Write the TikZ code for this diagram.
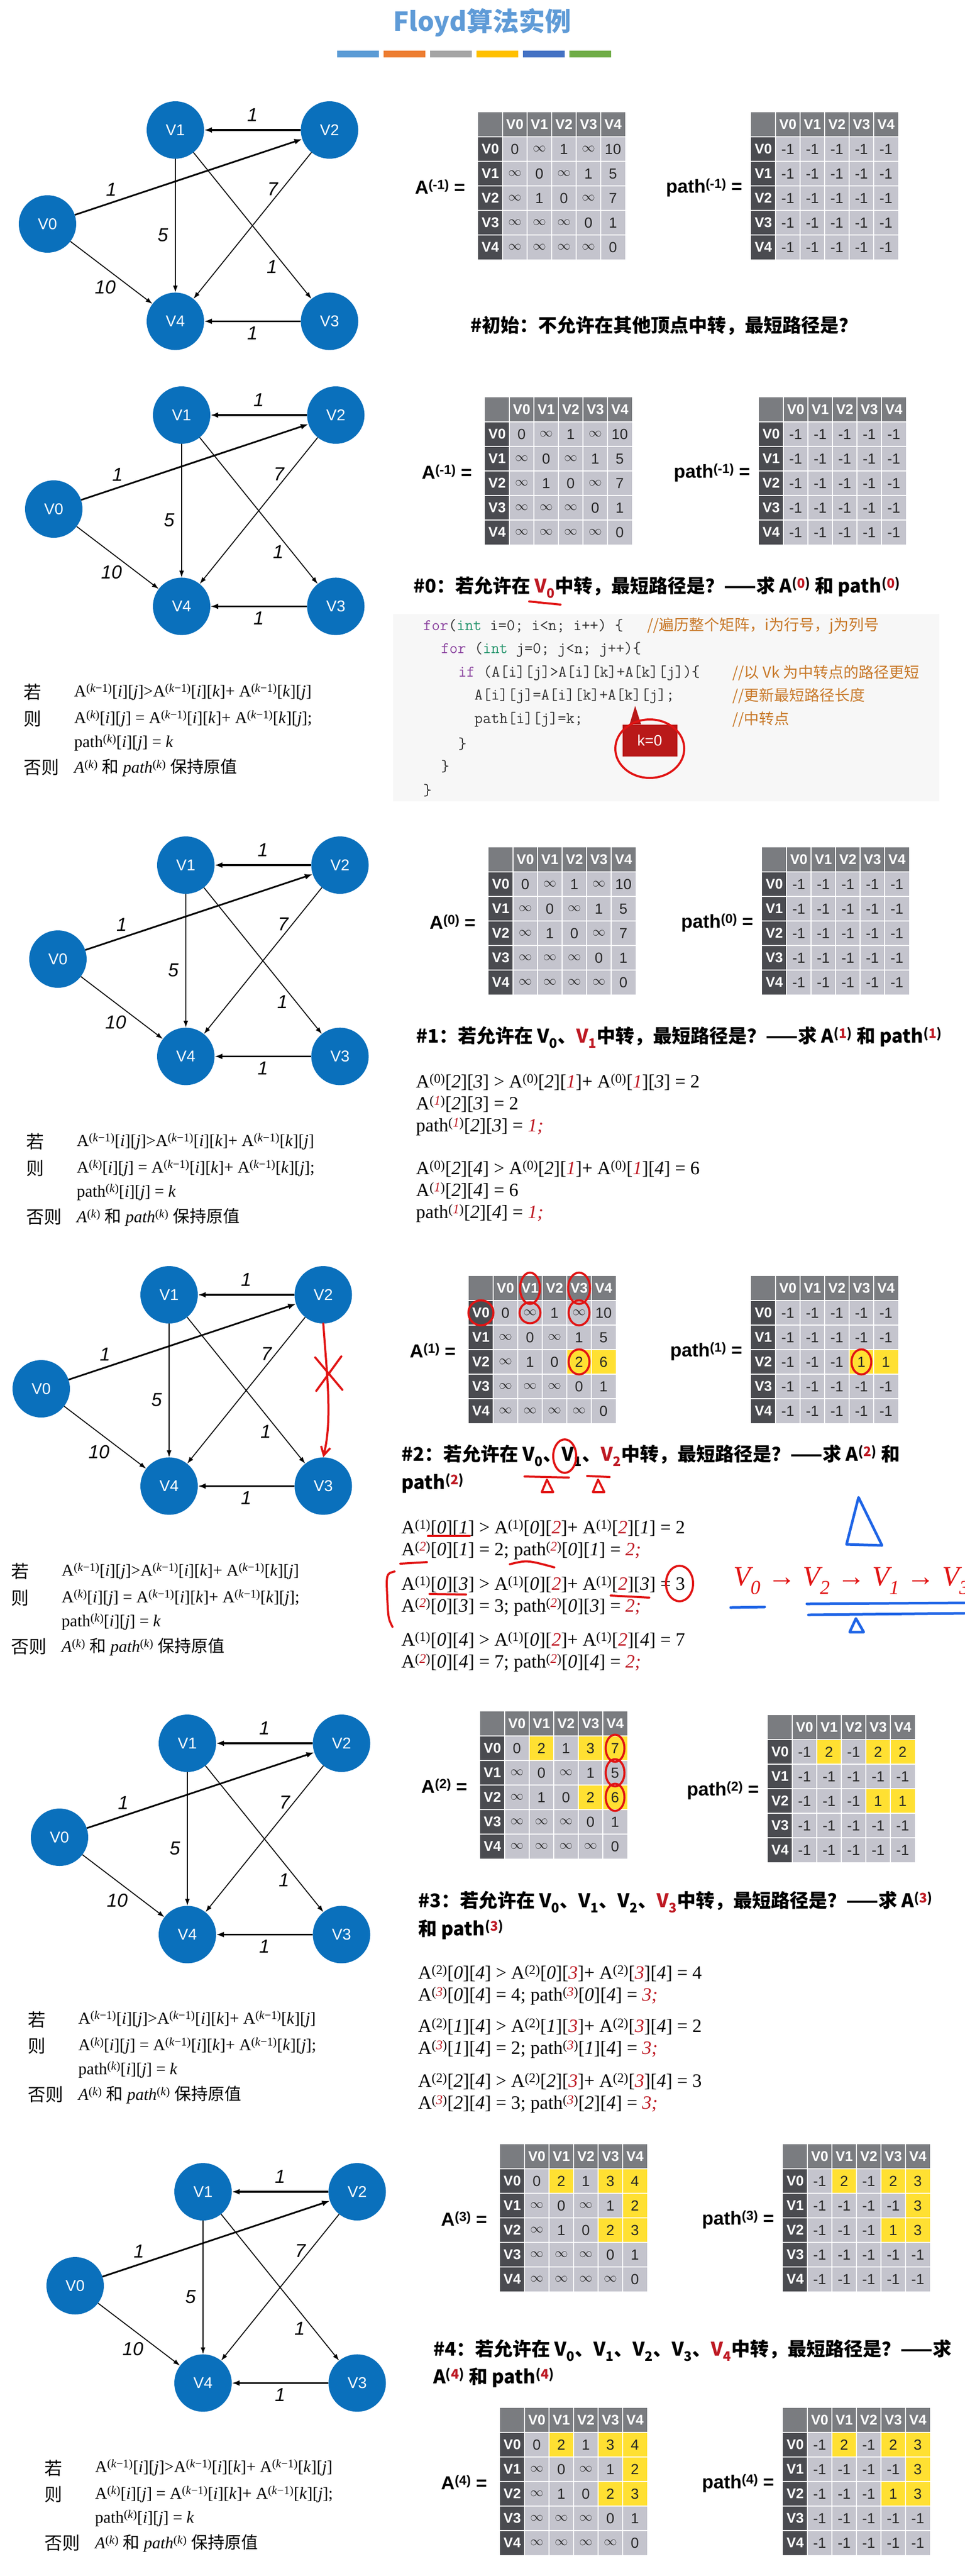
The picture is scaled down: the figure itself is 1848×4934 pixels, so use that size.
\documentclass[tikz,border=0pt]{standalone}
\usepackage{fontspec}
\setmainfont{Liberation Serif}
\setsansfont{Liberation Sans}
\newfontfamily\cjk{Noto Sans CJK SC}
\usetikzlibrary{arrows.meta,positioning}

\definecolor{nodeblue}{RGB}{10,112,188}
\definecolor{titleblue}{RGB}{95,155,215}
\definecolor{barA}{RGB}{91,155,213}
\definecolor{barB}{RGB}{237,125,49}
\definecolor{barC}{RGB}{165,165,165}
\definecolor{barD}{RGB}{255,192,0}
\definecolor{barE}{RGB}{68,114,196}
\definecolor{barF}{RGB}{112,173,71}
\definecolor{headrow}{RGB}{122,124,128}
\definecolor{headcol}{RGB}{74,75,80}
\definecolor{cellgray}{RGB}{196,196,205}
\definecolor{hlyellow}{RGB}{255,224,50}
\definecolor{eqred}{RGB}{190,25,35}
\definecolor{annred}{RGB}{225,20,20}
\definecolor{annblue}{RGB}{30,100,230}
\definecolor{codebg}{RGB}{247,247,247}
\definecolor{kwpurple}{RGB}{140,70,160}
\definecolor{tygreen}{RGB}{40,150,110}
\definecolor{cmtorange}{RGB}{200,120,40}
\definecolor{kred}{RGB}{185,25,25}

\newcommand{\sps}[1]{\textsuperscript{#1}}
\newcommand{\rd}[1]{\textcolor{eqred}{\textit{#1}}}
\newcommand{\hr}[1]{\textcolor{eqred}{#1}}
\newcommand{\infcell}{$\infty$}
\newcommand{\kw}[1]{\textcolor{kwpurple}{#1}}
\newcommand{\ty}[1]{\textcolor{tygreen}{#1}}

% name, x, y, five rows, yellow cells
\newcommand{\floydtable}[9]{%
  \begin{scope}[shift={(#2,#3)}]
    \fill[cellgray] (47,47) rectangle (282,282);
    \fill[headrow] (0,0) rectangle (282,47);
    \fill[headcol] (0,47) rectangle (47,282);
    \ifx\relax#9\relax\else
      \foreach \rr/\cc in {#9} {\fill[hlyellow] (47+47*\cc,47+47*\rr) rectangle ++(47,47);}
    \fi
    \foreach \hd [count=\ii from 0] in {V0,V1,V2,V3,V4} {
      \node[headtxt] (#1-h\ii) at (70.5+47*\ii,23.5) {\hd};
      \node[headtxt] (#1-r\ii) at (23.5,70.5+47*\ii) {\hd};
    }
    \foreach \row [count=\rr from 0] in {{#4},{#5},{#6},{#7},{#8}}
      \foreach \val [count=\cc from 0] in \row
        \node[celltxt] (#1-\rr-\cc) at (70.5+47*\cc,70.5+47*\rr) {\val};
    \foreach \kk in {1,...,5} {
      \draw[gridline] (47*\kk,0) -- (47*\kk,282);
      \draw[gridline] (0,47*\kk) -- (282,47*\kk);
    }
  \end{scope}}

\begin{document}
\begin{tikzpicture}[x=1pt,y=-1pt,
    vnode/.style={circle, fill=nodeblue, text=white, inner sep=0pt,
      minimum size=110pt, font=\sffamily\fontsize{30}{30}\selectfont},
    elabel/.style={inner sep=1pt, font=\sffamily\itshape\fontsize{36}{36}\selectfont},
    thinarr/.style={-{Latex[length=13pt,width=9pt]}, line width=1.8pt},
    thickarr/.style={-{Latex[length=15pt,width=11pt]}, line width=3.2pt},
    headtxt/.style={text=white, inner sep=0pt, font=\sffamily\bfseries\fontsize{27}{27}\selectfont},
    celltxt/.style={text=black!85, inner sep=0pt, font=\sffamily\fontsize{28}{28}\selectfont},
    gridline/.style={white, line width=1.5pt},
    tlabel/.style={anchor=east, inner sep=0pt, font=\sffamily\bfseries\fontsize{36}{36}\selectfont},
    heading/.style={anchor=west, inner sep=0pt, font=\cjk\bfseries\fontsize{36}{36}\selectfont},
    rulecjk/.style={anchor=west, inner sep=0pt, font=\cjk\fontsize{34}{34}\selectfont},
    ruletxt/.style={anchor=west, inner sep=0pt, font=\fontsize{32}{32}\selectfont},
    eqtxt/.style={anchor=west, inner sep=0pt, font=\fontsize{36}{36}\selectfont},
    codetxt/.style={anchor=west, inner sep=0pt, text=black!80, font=\ttfamily\fontsize{31}{31}\selectfont},
    codecmt/.style={anchor=west, inner sep=0pt, text=cmtorange, font=\cjk\fontsize{29}{29}\selectfont},
    redpen/.style={draw=annred, line width=4pt, line cap=round, line join=round},
    bluepen/.style={draw=annblue, line width=5pt, line cap=round, line join=round},
    kbox/.style={fill=kred, text=white, minimum width=105pt, minimum height=61pt,
      inner sep=0pt, font=\sffamily\fontsize{29}{29}\selectfont}
  ]
  \fill[white] (0,0) rectangle (1848,4934);
  \useasboundingbox (0,0) rectangle (1848,4934);

  % title and colour bars
  \node[text=titleblue, font=\cjk\bfseries\fontsize{50}{50}\selectfont] (title) at (924,43) {Floyd算法实例};
  \foreach \col [count=\ii from 0] in {barA,barB,barC,barD,barE,barF}
    \fill[\col] (646+89*\ii,97) rectangle ++(80,13);

  % the six copies of the graph
  \foreach \g/\gx/\gy in {a/336/249, b/348/795, c/356/1657, d/324/2480, e/359/3339, f/389/4198} {
    \node[vnode] (v1\g) at (\gx,\gy) {V1};
    \node[vnode, right=185pt of v1\g] (v2\g) {V2};
    \node[vnode, below=256pt of v1\g] (v4\g) {V4};
    \node[vnode, right=185pt of v4\g] (v3\g) {V3};
    \node[vnode] (v0\g) at (\gx-245,\gy+180) {V0};
    \draw[thickarr] (v2\g) -- node[elabel, above=14pt] (l21\g) {1} (v1\g);
    \draw[thickarr] (v0\g) -- node[elabel, pos=.16, above=10pt] (l02\g) {1} (v2\g);
    \draw[thinarr] (v2\g) -- node[elabel, pos=.25, left=6pt] (l24\g) {7} (v4\g);
    \draw[thinarr] (v1\g) -- node[elabel, pos=.57, left=12pt] (l14\g) {5} (v4\g);
    \draw[thinarr] (v1\g) -- node[elabel, pos=.78, left=14pt] (l13\g) {1} (v3\g);
    \draw[thinarr] (v0\g) -- node[elabel, pos=.73, left=26pt] (l04\g) {10} (v4\g);
    \draw[thickarr] (v3\g) -- node[elabel, below=8pt] (l34\g) {1} (v4\g);
  }

  % matrices
  \floydtable{ta}{916}{215}{0,\infcell,1,\infcell,10}{\infcell,0,\infcell,1,5}{\infcell,1,0,\infcell,7}{\infcell,\infcell,\infcell,0,1}{\infcell,\infcell,\infcell,\infcell,0}{}
  \floydtable{pa}{1439}{215}{-1,-1,-1,-1,-1}{-1,-1,-1,-1,-1}{-1,-1,-1,-1,-1}{-1,-1,-1,-1,-1}{-1,-1,-1,-1,-1}{}
  \floydtable{tb}{929}{761}{0,\infcell,1,\infcell,10}{\infcell,0,\infcell,1,5}{\infcell,1,0,\infcell,7}{\infcell,\infcell,\infcell,0,1}{\infcell,\infcell,\infcell,\infcell,0}{}
  \floydtable{pb}{1454}{761}{-1,-1,-1,-1,-1}{-1,-1,-1,-1,-1}{-1,-1,-1,-1,-1}{-1,-1,-1,-1,-1}{-1,-1,-1,-1,-1}{}
  \floydtable{tc}{936}{1623}{0,\infcell,1,\infcell,10}{\infcell,0,\infcell,1,5}{\infcell,1,0,\infcell,7}{\infcell,\infcell,\infcell,0,1}{\infcell,\infcell,\infcell,\infcell,0}{}
  \floydtable{pc}{1460}{1623}{-1,-1,-1,-1,-1}{-1,-1,-1,-1,-1}{-1,-1,-1,-1,-1}{-1,-1,-1,-1,-1}{-1,-1,-1,-1,-1}{}
  \floydtable{td}{898}{2444}{0,\infcell,1,\infcell,10}{\infcell,0,\infcell,1,5}{\infcell,1,0,2,6}{\infcell,\infcell,\infcell,0,1}{\infcell,\infcell,\infcell,\infcell,0}{2/3,2/4}
  \floydtable{pd}{1439}{2444}{-1,-1,-1,-1,-1}{-1,-1,-1,-1,-1}{-1,-1,-1,1,1}{-1,-1,-1,-1,-1}{-1,-1,-1,-1,-1}{2/3,2/4}
  \floydtable{te}{920}{3278}{0,2,1,3,7}{\infcell,0,\infcell,1,5}{\infcell,1,0,2,6}{\infcell,\infcell,\infcell,0,1}{\infcell,\infcell,\infcell,\infcell,0}{0/1,0/3,0/4,2/3,2/4}
  \floydtable{pe}{1471}{3285}{-1,2,-1,2,2}{-1,-1,-1,-1,-1}{-1,-1,-1,1,1}{-1,-1,-1,-1,-1}{-1,-1,-1,-1,-1}{0/1,0/3,0/4,2/3,2/4}
  \floydtable{tf}{958}{4107}{0,2,1,3,4}{\infcell,0,\infcell,1,2}{\infcell,1,0,2,3}{\infcell,\infcell,\infcell,0,1}{\infcell,\infcell,\infcell,\infcell,0}{0/1,0/3,0/4,1/4,2/3,2/4}
  \floydtable{pf}{1500}{4107}{-1,2,-1,2,3}{-1,-1,-1,-1,3}{-1,-1,-1,1,3}{-1,-1,-1,-1,-1}{-1,-1,-1,-1,-1}{0/1,0/3,0/4,1/4,2/3,2/4}
  \floydtable{tg}{958}{4612}{0,2,1,3,4}{\infcell,0,\infcell,1,2}{\infcell,1,0,2,3}{\infcell,\infcell,\infcell,0,1}{\infcell,\infcell,\infcell,\infcell,0}{0/1,0/3,0/4,1/4,2/3,2/4}
  \floydtable{pg}{1500}{4612}{-1,2,-1,2,3}{-1,-1,-1,-1,3}{-1,-1,-1,1,3}{-1,-1,-1,-1,-1}{-1,-1,-1,-1,-1}{0/1,0/3,0/4,1/4,2/3,2/4}

  % matrix labels
  \foreach \g/\tx/\ty/\px/\py/\sup in {a/916/215/1439/215/-1, b/929/761/1454/761/-1, c/936/1623/1460/1623/0,
      d/898/2444/1439/2444/1, e/920/3278/1471/3285/2, f/958/4107/1500/4107/3, g/958/4612/1500/4612/4} {
    \node[tlabel] (la\g) at (\tx-24,\ty+143) {A\sps{(\sup)} =};
    \node[tlabel] (lp\g) at (\px-16,\py+145) {path\sps{(\sup)} =};
  }

  % headings
  \node[heading] (h0) at (901,624) {\#初始：不允许在其他顶点中转，最短路径是？};
  \node[heading] (h1) at (792,1125) {\#0：若允许在 \hr{V\textsubscript{0}}中转，最短路径是？——求 A\sps{(\hr{0})} 和 path\sps{(\hr{0})}};
  \node[heading] (h2) at (797,1987) {\#1：若允许在 V\textsubscript{0}、\hr{V\textsubscript{1}}中转，最短路径是？——求 A\sps{(\hr{1})} 和 path\sps{(\hr{1})}};
  \node[heading] (h3) at (769,2788) {\#2：若允许在 V\textsubscript{0}、V\textsubscript{1}、\hr{V\textsubscript{2}}中转，最短路径是？——求 A\sps{(\hr{2})} 和};
  \node[heading] (h3b) at (769,2841) {path\sps{(\hr{2})}};
  \node[heading] (h4) at (801,3643) {\#3：若允许在 V\textsubscript{0}、V\textsubscript{1}、V\textsubscript{2}、\hr{V\textsubscript{3}}中转，最短路径是？——求 A\sps{(\hr{3})}};
  \node[heading] (h4b) at (801,3696) {和 path\sps{(\hr{3})}};
  \node[heading] (h5) at (830,4502) {\#4：若允许在 V\textsubscript{0}、V\textsubscript{1}、V\textsubscript{2}、V\textsubscript{3}、\hr{V\textsubscript{4}}中转，最短路径是？——求};
  \node[heading] (h5b) at (830,4554) {A\sps{(\hr{4})} 和 path\sps{(\hr{4})}};

  % update rule, repeated under each graph
  \foreach \g/\rx/\ry in {b/45/1326, c/50/2187, d/21/3010, e/53/3868, f/85/4727} {
    \node[rulecjk] (ruo\g) at (\rx,\ry) {若};
    \node[rulecjk] (rze\g) at (\rx,\ry+51) {则};
    \node[rulecjk] (rfo\g) at (\rx,\ry+144) {否则};
    \node[ruletxt] (rf1\g) at (\rx+97,\ry) {A\sps{(\textit{k}−1)}[\textit{i}][\textit{j}]>A\sps{(\textit{k}−1)}[\textit{i}][\textit{k}]+ A\sps{(\textit{k}−1)}[\textit{k}][\textit{j}]};
    \node[ruletxt] (rf2\g) at (\rx+97,\ry+51) {A\sps{(\textit{k})}[\textit{i}][\textit{j}] = A\sps{(\textit{k}−1)}[\textit{i}][\textit{k}]+ A\sps{(\textit{k}−1)}[\textit{k}][\textit{j}];};
    \node[ruletxt] (rf3\g) at (\rx+97,\ry+97) {path\sps{(\textit{k})}[\textit{i}][\textit{j}] = \textit{k}};
    \node[ruletxt] (rf4\g) at (\rx+97,\ry+144) {\textit{A}\sps{(\textit{k})} {\cjk 和} \textit{path}\sps{(\textit{k})} {\cjk 保持原值}};
  }

  % code of the inner step
  \fill[codebg] (753,1176) rectangle (1800,1535);
  \node[codetxt] (c1) at (811,1199) {\kw{for}(\ty{int} i=0; i<n; i++) \{};
  \node[codetxt] (c2) at (845,1244) {\kw{for} (\ty{int} j=0; j<n; j++)\{};
  \node[codetxt] (c3) at (878,1289) {\kw{if} (A[i][j]>A[i][k]+A[k][j])\{};
  \node[codetxt] (c4) at (909,1333) {A[i][j]=A[i][k]+A[k][j];};
  \node[codetxt] (c5) at (909,1378) {path[i][j]=k;};
  \node[codetxt] (c6) at (878,1425) {\}};
  \node[codetxt] (c7) at (845,1468) {\}};
  \node[codetxt] (c8) at (811,1514) {\}};
  \node[codecmt] (m1) at (1240,1199) {//遍历整个矩阵，i为行号，j为列号};
  \node[codecmt] (m3) at (1403,1289) {//以 Vk 为中转点的路径更短};
  \node[codecmt] (m4) at (1403,1333) {//更新最短路径长度};
  \node[codecmt] (m5) at (1403,1378) {//中转点};
  \node[kbox] (kzero) at (1245,1418) {k=0};
  \coordinate (ktip) at (1217,1352);
  \fill[kred] ([xshift=14pt]kzero.north west) -- (ktip) -- ([xshift=36pt]kzero.north west) -- cycle;
  \draw[redpen] ([yshift=-16pt]kzero.center) ellipse [x radius=66, y radius=56];
  \draw[redpen] (1014,1152) -- (1074,1158);

  % worked steps for #1
  \foreach \j/\v/\y in {3/2/2073, 4/6/2239} {
    \node[eqtxt] (e1a\j) at (797,\y) {A\sps{(0)}[\textit{2}][\textit{\j}] > A\sps{(0)}[\textit{2}][\rd{1}]+ A\sps{(0)}[\rd{1}][\textit{\j}] = \v};
    \node[eqtxt] (e1b\j) at (797,\y+42) {A\sps{(\rd{1})}[\textit{2}][\textit{\j}] = \v};
    \node[eqtxt] (e1c\j) at (797,\y+85) {path\sps{(\rd{1})}[\textit{2}][\textit{\j}] = \rd{1;}};
  }
  % worked steps for #2
  \foreach \j/\v/\y in {1/2/2927, 3/3/3035, 4/7/3142} {
    \node[eqtxt] (e2a\j) at (769,\y) {A\sps{(1)}[\textit{0}][\textit{\j}] > A\sps{(1)}[\textit{0}][\rd{2}]+ A\sps{(1)}[\rd{2}][\textit{\j}] = \v};
    \node[eqtxt] (e2b\j) at (769,\y+43) {A\sps{(\rd{2})}[\textit{0}][\textit{\j}] = \v; path\sps{(\rd{2})}[\textit{0}][\textit{\j}] = \rd{2;}};
  }
  % worked steps for #3
  \foreach \i/\v/\y in {0/4/3780, 1/2/3882, 2/3/3987} {
    \node[eqtxt] (e3a\i) at (801,\y) {A\sps{(2)}[\textit{\i}][\textit{4}] > A\sps{(2)}[\textit{\i}][\rd{3}]+ A\sps{(2)}[\rd{3}][\textit{4}] = \v};
    \node[eqtxt] (e3b\i) at (801,\y+43) {A\sps{(\rd{3})}[\textit{\i}][\textit{4}] = \v; path\sps{(\rd{3})}[\textit{\i}][\textit{4}] = \rd{3;}};
  }

  % hand marks on step #2
  \draw[redpen, -{Straight Barb[length=16pt,width=18pt]}] (v2d.south) .. controls (628,2650) and (636,2720) .. (v3d.north);
  \draw[redpen] (604,2600) -- (656,2662);
  \draw[redpen] (654,2598) -- (606,2664);
  \draw[redpen] (td-h1) ellipse [x radius=19, y radius=30];
  \draw[redpen] (td-h3) ellipse [x radius=21, y radius=30];
  \draw[redpen] (td-r0) ellipse [x radius=24, y radius=24];
  \draw[redpen] (td-0-1) ellipse [x radius=20, y radius=20];
  \draw[redpen] (td-0-3) ellipse [x radius=20, y radius=24];
  \draw[redpen] (td-2-3) ellipse [x radius=20, y radius=24];
  \draw[redpen] (pd-2-3) ellipse [x radius=19, y radius=24];
  \draw[redpen] (1082,2789) ellipse [x radius=22, y radius=32];
  \draw[redpen] (1005,2828) -- (1090,2830);
  \draw[redpen] (1125,2827) -- (1168,2829);
  \draw[redpen] (1048,2834) -- (1038,2858) -- (1060,2858) -- cycle;
  \draw[redpen] (1146,2834) -- (1136,2858) -- (1158,2858) -- cycle;
  \draw[redpen] (820,2942) -- (900,2942);
  \draw[redpen] (767,2995) -- (818,2992);
  \draw[redpen] (977,2996) .. controls (1010,2988) .. (1062,3002);
  \draw[redpen] (1302,3033) ellipse [x radius=26, y radius=34];
  \draw[redpen] (823,3053) -- (893,3054);
  \draw[redpen] (1170,3056) -- (1244,3060);
  \draw[redpen] (756,3010) .. controls (740,3014) .. (742,3060) .. controls (744,3100) .. (752,3116);
  \node[text=annred, anchor=west, inner sep=0pt, font=\itshape\fontsize{54}{54}\selectfont] (route) at (1405,3028)
    {V\textsubscript{0} → V\textsubscript{2} → V\textsubscript{1} → V\textsubscript{3}};
  \draw[bluepen] (1645,2868) -- (1622,2958) -- (1690,2960) -- cycle;
  \draw[bluepen] (1400,3079) -- (1465,3078);
  \draw[bluepen] (1546,3072) -- (1848,3070);
  \draw[bluepen] (1549,3093) -- (1848,3090);
  \draw[bluepen] (1640,3100) -- (1628,3126) -- (1655,3126) -- cycle;

  % hand marks on step #3
  \foreach \rr in {0,1,2}
    \draw[redpen] (te-\rr-4) ellipse [x radius=18, y radius=26];
\end{tikzpicture}
\end{document}
